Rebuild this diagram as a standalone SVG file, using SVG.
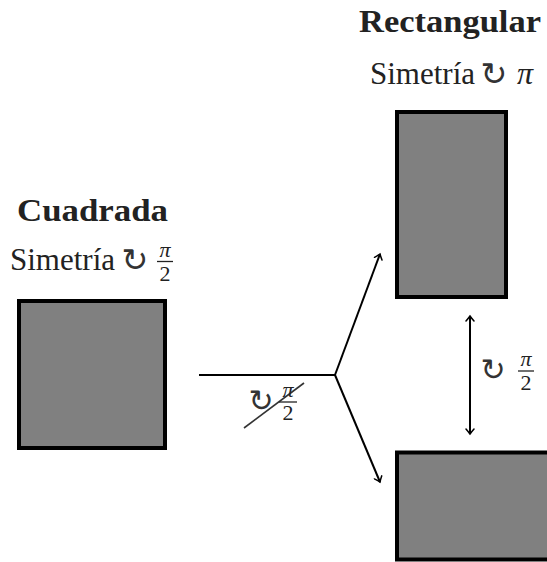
<svg xmlns="http://www.w3.org/2000/svg" width="547" height="562" viewBox="0 0 547 562">
<style>
.shape{fill:#808080;stroke:#000;stroke-width:4}
.t{font-family:"Liberation Serif","DejaVu Serif",serif;fill:#222}
.b{font-weight:bold;font-size:31px}
.r{font-size:32px}
.f{font-size:22px;font-style:normal}
.pi{font-style:italic}
.sym{font-family:"DejaVu Sans",sans-serif;fill:#333;text-anchor:middle}
.ln{stroke:#000;stroke-width:2;fill:none}
.bar{stroke:#222;stroke-width:1.3}
</style>
<defs>
<marker id="ah" viewBox="-6 -5 8 10" refX="0" refY="0" markerWidth="8" markerHeight="10" markerUnits="userSpaceOnUse" orient="auto-start-reverse">
<path d="M-5,-4 Q-1.5,-1 0,0 Q-1.5,1 -5,4" fill="none" stroke="#000" stroke-width="1.5" stroke-linecap="round"/>
</marker>
</defs>
<g id="cuadrada">
<text class="t b" x="17" y="221" textLength="151" lengthAdjust="spacingAndGlyphs">Cuadrada</text>
<text class="t r" x="10" y="270" textLength="105" lengthAdjust="spacingAndGlyphs">Simetría</text>
<text class="sym" x="135" y="271" font-size="32">↻</text>
<text class="t f pi" x="165" y="257" text-anchor="middle">π</text>
<line class="bar" x1="157" y1="261.5" x2="173" y2="261.5"/>
<text class="t f" x="165" y="281" text-anchor="middle">2</text>
<rect class="shape" x="19" y="301" width="146" height="147"/>
</g>
<g id="rectangular">
<text class="t b" x="359" y="32" textLength="182" lengthAdjust="spacingAndGlyphs">Rectangular</text>
<text class="t r" x="370" y="84" textLength="105" lengthAdjust="spacingAndGlyphs">Simetría</text>
<text class="sym" x="494" y="85" font-size="32">↻</text>
<text class="t r pi" x="517" y="84">π</text>
<rect class="shape" x="397" y="112" width="109" height="185"/>
</g>
<g id="rect-rotado">
<rect class="shape" x="397" y="452.5" width="190" height="107"/>
</g>
<g id="connectors">
<line class="ln" x1="199" y1="375" x2="335" y2="375"/>
<line class="ln" x1="335" y1="375" x2="380" y2="254" marker-end="url(#ah)"/>
<line class="ln" x1="335" y1="375" x2="380" y2="482" marker-end="url(#ah)"/>
<line class="ln" x1="470" y1="316" x2="470" y2="434" marker-start="url(#ah)" marker-end="url(#ah)"/>
<line x1="244" y1="428" x2="304" y2="383" stroke="#333" stroke-width="1.6"/>
<text class="sym" x="261" y="411" font-size="30">↻</text>
<text class="t f pi" x="288" y="397" text-anchor="middle">π</text>
<line class="bar" x1="279" y1="402" x2="297" y2="402"/>
<text class="t f" x="288" y="420" text-anchor="middle">2</text>
<text class="sym" x="493" y="380" font-size="30">↻</text>
<text class="t f pi" x="526" y="366" text-anchor="middle">π</text>
<line class="bar" x1="518" y1="371" x2="534" y2="371"/>
<text class="t f" x="526" y="390" text-anchor="middle">2</text>
</g>
</svg>
